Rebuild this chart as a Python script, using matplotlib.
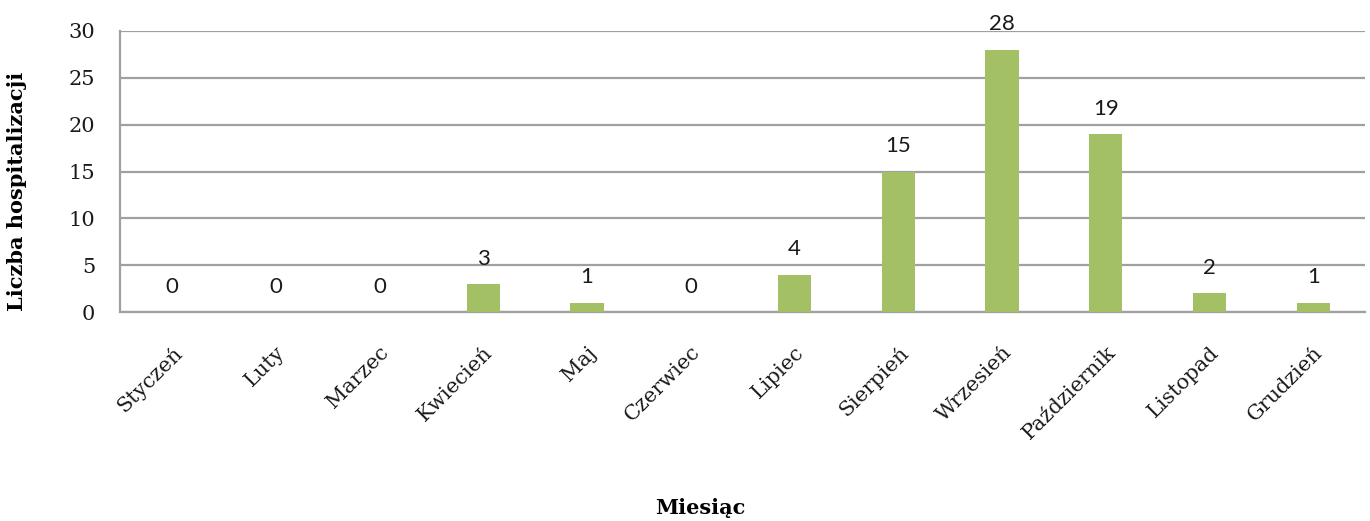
import matplotlib
matplotlib.use("Agg")
import matplotlib.pyplot as plt

# data
months = ["Styczeń", "Luty", "Marzec", "Kwiecień", "Maj", "Czerwiec",
          "Lipiec", "Sierpień", "Wrzesień", "Październik", "Listopad", "Grudzień"]
counts = [0, 0, 0, 3, 1, 0, 4, 15, 28, 19, 2, 1]
yticks = [0, 5, 10, 15, 20, 25, 30]

serif = ["DejaVu Serif"]

fig = plt.figure(figsize=(13.7, 5.21), dpi=100)
ax = fig.add_axes([0.0876, 0.401, 0.9088, 0.5395])

x = range(len(months))
bars = ax.bar(x, counts, width=0.32, color="#a3c164", zorder=3)

# value labels above bars
for xi, v in zip(x, counts):
    ax.text(xi, v + 2.7, str(v), ha="center", va="center",
            fontsize=16, family=["Lato", "DejaVu Sans"], color="#1a1a1a")

ax.set_xlim(-0.5, len(months) - 0.5)
ax.set_ylim(0, 30)
ax.set_yticks(yticks)
ax.set_yticklabels([str(t) for t in yticks], family=serif, fontsize=15)
ax.set_xticks(list(x))
ax.set_xticklabels(months, rotation=45, ha="right", rotation_mode="anchor",
                   family=serif, fontsize=15)
ax.tick_params(axis="both", length=0, colors="#1a1a1a")
ax.tick_params(axis="y", pad=18)
ax.tick_params(axis="x", pad=22)

ax.yaxis.grid(True, color="#a0a0a0", linewidth=1.6, zorder=0)
for s in ["top", "right"]:
    ax.spines[s].set_visible(False)
ax.spines["left"].set_color("#a0a0a0")
ax.spines["left"].set_linewidth(1.6)
ax.spines["bottom"].set_color("#a0a0a0")
ax.spines["bottom"].set_linewidth(1.6)

ax.set_ylabel("Liczba hospitalizacji", family=serif, fontsize=15, fontweight="bold")
ax.yaxis.set_label_coords(-0.075, 0.43)
fig.text(0.511, 0.025, "Miesiąc", family=serif, fontsize=15, fontweight="bold",
         ha="center", va="center")

fig.savefig("out.png", dpi=100)
